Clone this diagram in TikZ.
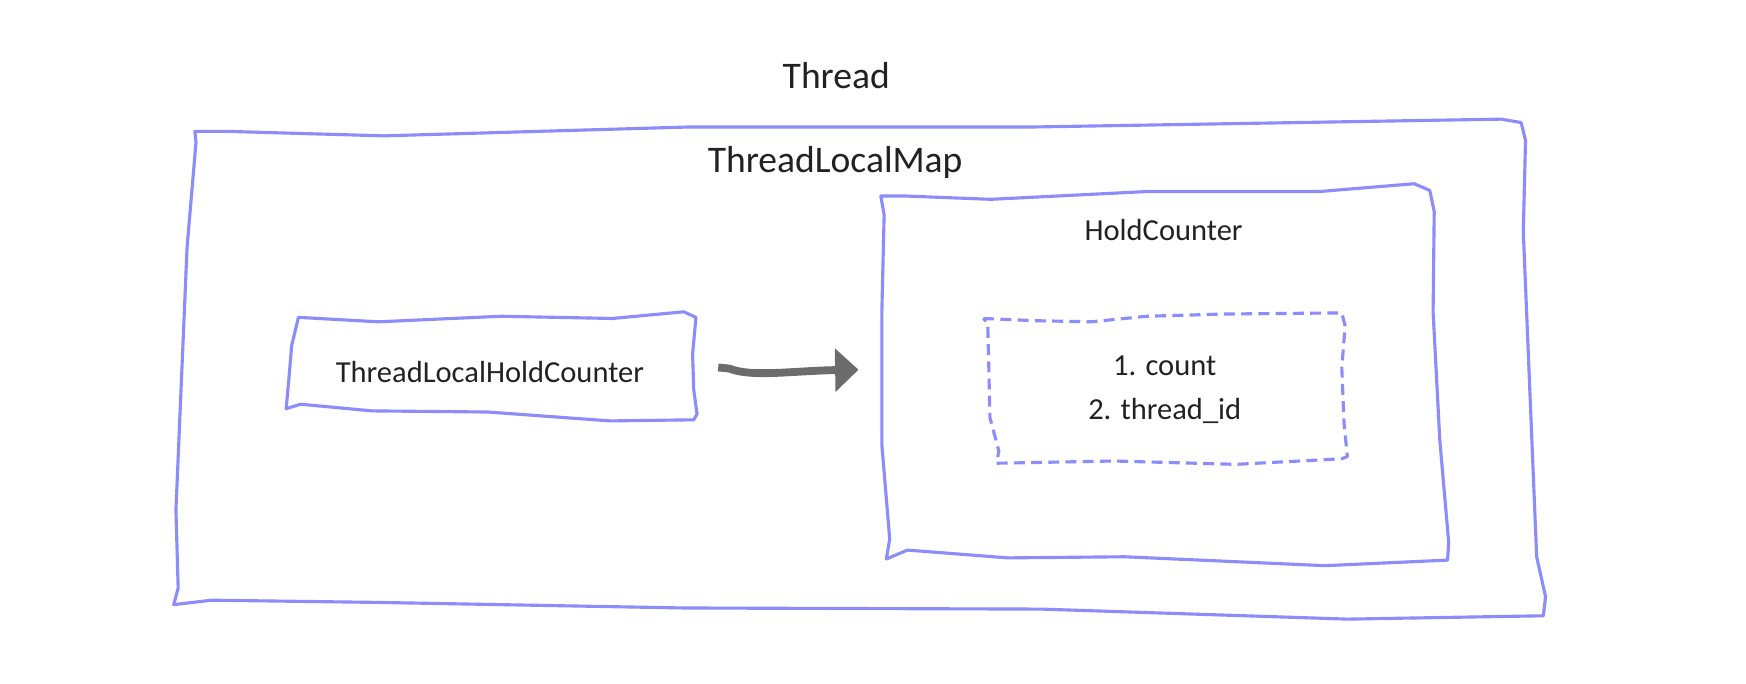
\documentclass[tikz,border=0pt]{standalone}
\usepackage{fontspec}
\setmainfont{Carlito}
\usetikzlibrary{arrows.meta, positioning}
\definecolor{sketchblue}{RGB}{140,140,250}
\definecolor{ink}{RGB}{34,34,34}
\definecolor{arrowgray}{RGB}{108,108,108}

\begin{document}
\begin{tikzpicture}[
  x=0.1mm, y=-0.1mm,
  sketch/.style={draw=sketchblue, line width=0.8pt, line join=round},
  sketchdash/.style={sketch, dash pattern=on 2.8pt off 1.6pt},
  bigtxt/.style={font=\fontsize{9.6}{11.5}\selectfont, text=ink, inner sep=0pt},
  smalltxt/.style={font=\fontsize{7.8}{11.4}\selectfont, text=ink, inner sep=0pt, align=center},
  flow/.style={-{Triangle[length=2.1mm,width=3.8mm]}, draw=arrowgray, line width=2pt}
]
\useasboundingbox (0,0) rectangle (1568,614);

% hand drawn frames
\draw[sketch] (175,118) -- (205,118) -- (345,122) -- (620,114) -- (930,114)
  -- (1348,107) -- (1366,110) -- (1370,126) -- (1368,208) -- (1380,500)
  -- (1388,536) -- (1386,553) -- (1210,556) -- (935,547) -- (615,546)
  -- (340,541) -- (190,539) -- (156,543) -- (160,528) -- (158,458)
  -- (168,222) -- (176,128) -- cycle;

\draw[sketch] (268,285) -- (340,289) -- (450,284) -- (550,286) -- (614,280)
  -- (625,285) -- (622,318) -- (623,350) -- (626,372) -- (623,377)
  -- (548,378) -- (438,370) -- (334,369) -- (270,363) -- (257,367)
  -- (259,345) -- (262,310) -- cycle;

\draw[sketch] (791,176) -- (812,176) -- (890,179) -- (1030,172) -- (1185,172)
  -- (1270,165) -- (1284,171) -- (1288,190) -- (1287,280) -- (1293,395)
  -- (1301,487) -- (1300,503) -- (1190,508) -- (1010,500) -- (905,501)
  -- (815,494) -- (796,502) -- (799,484) -- (792,400) -- (792,278)
  -- (794,193) -- cycle;

\draw[sketchdash] (883,286) -- (930,288) -- (980,289) -- (1030,284) -- (1100,282)
  -- (1205,281) -- (1208,293) -- (1205,330) -- (1207,380) -- (1210,410)
  -- (1205,412) -- (1110,417) -- (1000,414) -- (895,416) -- (897,405)
  -- (889,375) -- (888,330) -- (887,290) -- cycle;

% labels
\node[bigtxt] (thread) at (751,68) {Thread};
\node[bigtxt] (tlmap) at (750,146) {ThreadLocalMap};
\node[smalltxt] (tlhc) at (440,334) {ThreadLocalHoldCounter};
\node[smalltxt] (hc) at (1045,207) {HoldCounter};
\node[smalltxt] (fields) at (1046,350) {1. count\\2. thread\_id};

% arrow
\coordinate (arrS) at (645,330);
\coordinate (arrE) at (771,332);
\draw[flow] (arrS) -- (655,331) .. controls (675,339) and (712,333) .. (arrE);

\end{tikzpicture}
\end{document}
